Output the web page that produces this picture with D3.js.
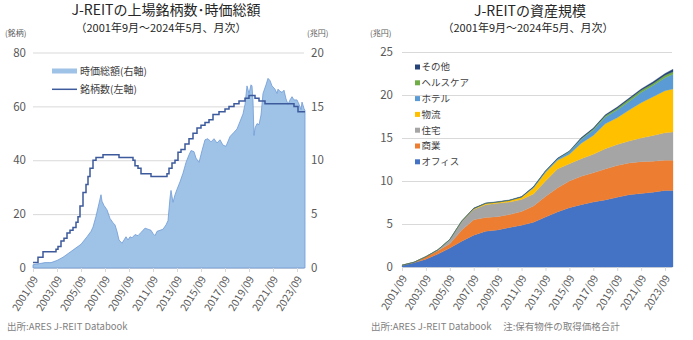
<!DOCTYPE html>
<html><head><meta charset="utf-8">
<script src="https://cdn.jsdelivr.net/npm/d3@7"></script>
<style>
body{margin:0;background:#fff;}
svg{display:block;font-family:"Noto Sans CJK JP","Noto Sans",sans-serif;}
</style></head>
<body><svg id="c" width="693" height="340"></svg>
<script>
// ---------- data: left chart ----------
const xTickLabels = ["2001/09","2003/09","2005/09","2007/09","2009/09","2011/09","2013/09","2015/09","2017/09","2019/09","2021/09","2023/09"];
const leftTicks = [0,20,40,60,80];
const rightTicksL = [0,5,10,15,20];
const countDates = ["2001/09","2002/02","2002/07","2003/08","2003/10","2004/01","2004/04","2004/07","2004/10","2005/01","2005/04","2005/06","2005/08","2005/11","2006/02","2006/04","2006/06","2006/09","2006/12","2007/07","2008/11","2010/01","2010/03","2010/06","2010/09","2011/07","2012/11","2013/01","2013/04","2013/07","2013/10","2014/01","2014/05","2014/09","2015/01","2015/05","2015/09","2016/01","2016/05","2016/09","2017/03","2017/09","2018/01","2018/06","2018/11","2019/05","2019/09","2020/03","2020/07","2021/01","2023/06","2023/10","2024/05"];
const countValues = [2,4,6,7,8,10,11,13,14,15,17,19,23,28,31,34,37,40,41,42,41,40,38,37,35,34,35,37,39,40,43,44,46,48,50,52,53,54,55,57,58,59,60,61,62,63,64,63,62,61,60,58,58];
const capDates = ["2001/09","2002/03","2002/09","2003/03","2003/09","2004/03","2004/09","2005/03","2005/09","2006/03","2006/07","2006/09","2006/12","2007/03","2007/05","2007/06","2007/08","2007/11","2008/02","2008/05","2008/07","2008/09","2008/11","2009/02","2009/04","2009/06","2009/08","2009/10","2009/12","2010/03","2010/06","2010/09","2010/11","2011/01","2011/04","2011/07","2011/09","2011/11","2012/01","2012/04","2012/07","2012/10","2012/12","2013/02","2013/03","2013/05","2013/07","2013/09","2013/12","2014/03","2014/06","2014/09","2014/11","2015/02","2015/04","2015/07","2015/10","2016/01","2016/04","2016/07","2016/10","2017/01","2017/04","2017/07","2017/10","2018/02","2018/06","2018/09","2018/12","2019/03","2019/05","2019/07","2019/09","2019/11","2019/12","2020/01","2020/02","2020/03","2020/05","2020/07","2020/09","2020/11","2021/02","2021/04","2021/06","2021/08","2021/11","2022/01","2022/02","2022/04","2022/06","2022/08","2022/10","2022/12","2023/02","2023/04","2023/06","2023/09","2023/11","2024/01","2024/02","2024/04","2024/05"];
const capValues = [0.3,0.4,0.5,0.5,0.7,1.0,1.4,1.8,2.2,2.9,3.4,3.8,4.8,6.0,6.8,6.2,5.8,5.4,4.6,4.2,4.0,3.4,2.6,2.3,2.6,2.9,2.6,2.9,2.8,3.1,3.0,3.3,3.5,3.7,3.6,3.5,3.2,3.0,3.4,3.5,3.6,4.0,4.4,6.5,7.2,6.1,6.8,7.3,8.0,8.8,9.8,10.5,10.9,10.8,10.2,9.8,10.9,11.9,12.0,11.7,12.0,11.6,11.9,11.4,11.3,12.2,12.6,12.9,13.6,14.3,15.2,16.9,16.2,17.0,16.9,15.5,12.3,13.0,13.4,13.3,14.2,16.2,17.0,17.6,17.4,16.9,16.6,16.2,16.6,16.4,16.3,16.5,15.7,15.2,15.6,15.9,15.6,15.6,15.2,14.7,15.4,14.8,14.6];

// ---------- data: right chart (兆円, each category's own amount) ----------
const assetDates = ["2001/09","2002/09","2003/09","2004/09","2005/09","2006/09","2007/09","2008/09","2009/09","2010/09","2011/09","2012/09","2013/09","2014/09","2015/09","2016/09","2017/09","2018/09","2019/09","2020/09","2021/09","2022/09","2023/09","2024/05"];
const office      = [0.2,0.5,0.9,1.5,2.2,3.0,3.7,4.15,4.3,4.6,4.85,5.2,5.8,6.4,6.9,7.25,7.55,7.8,8.1,8.4,8.55,8.7,8.9,8.9];
const commercial  = [0,0.05,0.3,0.4,0.5,1.3,1.8,1.6,1.55,1.5,1.6,1.9,2.4,2.8,3.1,3.3,3.4,3.6,3.7,3.7,3.7,3.6,3.5,3.5];
const residential = [0,0,0,0.1,0.5,1.0,1.2,1.5,1.55,1.45,1.4,1.4,1.8,2.2,2.0,2.05,2.15,2.35,2.45,2.55,2.75,3.0,3.2,3.3];
const logistics   = [0,0,0,0,0,0.05,0.1,0.15,0.15,0.2,0.25,0.7,1.0,1.0,1.1,1.8,2.2,2.9,3.1,3.6,4.1,4.5,4.9,5.0];
const hotel       = [0,0,0,0,0,0,0,0,0,0,0.05,0.1,0.15,0.2,0.3,0.45,0.6,0.75,0.9,1.0,1.2,1.3,1.5,1.7];
const healthcare  = [0,0,0,0,0,0,0,0,0,0,0,0,0,0,0.05,0.1,0.15,0.2,0.2,0.25,0.25,0.25,0.3,0.3];
const other       = [0,0,0,0,0,0,0.05,0.05,0.05,0.05,0.05,0.05,0.05,0.05,0.05,0.1,0.1,0.1,0.15,0.15,0.15,0.2,0.2,0.3];
const assetTicks = [0,5,10,15,20,25];
const seriesNames = ["オフィス","商業","住宅","物流","ホテル","ヘルスケア","その他"];
const seriesColors = ["#4472c4","#ed7d31","#a5a5a5","#ffc000","#5b9bd5","#70ad47","#264478"];

// ---------- helpers ----------
const mIdx = s => { const [y,m] = s.split("/").map(Number); return (y-2001)*12 + (m-9); };
const tickIdx = xTickLabels.map(mIdx);
const svg = d3.select("#c");
const gridCol = "#d9d9d9", tickTxt = "#595959", titleCol = "#262626";

function styleAxis(g){ g.select(".domain").remove(); g.selectAll("line").attr("stroke",gridCol); g.selectAll("text").attr("fill",tickTxt).attr("font-size","11.5px").attr("font-family",'"Noto Sans CJK JP",sans-serif'); }
function xAxisLabels(g){
  g.select(".domain").remove();
  g.selectAll("line").attr("stroke",gridCol);
  g.selectAll("text").attr("fill",tickTxt).attr("font-size","10.5px").attr("font-family",'"Noto Sans CJK JP",sans-serif')
   .attr("text-anchor","end").attr("x",0).attr("y",0).attr("dy","0.35em")
   .attr("transform","translate(2,9) rotate(-58)");
}

// ================= LEFT CHART =================
const xL = d3.scaleLinear().domain([0,272]).range([33,305]);
const yL = d3.scaleLinear().domain([0,80]).range([268,52.5]);
const yR = d3.scaleLinear().domain([0,20]).range([268,52.5]);

svg.append("g").attr("transform","translate(33,0)")
  .call(d3.axisLeft(yL).tickValues(leftTicks).tickSize(-271).tickPadding(7)).call(styleAxis);
svg.append("g").attr("transform","translate(304,0)")
  .call(d3.axisRight(yR).tickValues(rightTicksL).tickSize(0).tickPadding(7)).call(styleAxis);

const capData = capDates.map((d,i)=>({i:mIdx(d), v:capValues[i]}));
svg.append("path").datum(capData)
  .attr("d", d3.area().x(d=>xL(d.i)).y0(yR(0)).y1(d=>yR(d.v)))
  .attr("fill","#9fc2e7").attr("stroke","#6f9bd6").attr("stroke-width",0.8);

const cntData = countDates.map((d,i)=>({i:mIdx(d), v:countValues[i]}));
svg.append("path").datum(cntData)
  .attr("d", d3.line().curve(d3.curveStepAfter).x(d=>xL(d.i)).y(d=>yL(d.v)))
  .attr("fill","none").attr("stroke","#3d5a9c").attr("stroke-width",1.5);

svg.append("g").attr("transform","translate(0,268)")
  .call(d3.axisBottom(xL).tickValues(tickIdx).tickFormat((d,i)=>xTickLabels[i]).tickSize(4)).call(xAxisLabels);

// legend left
svg.append("rect").attr("x",52).attr("y",68.5).attr("width",25).attr("height",5).attr("fill","#9fc2e7");
svg.append("text").attr("x",80).attr("y",71).attr("dy","0.35em").attr("font-size","10px").attr("fill","#404040").text("時価総額(右軸)");
svg.append("line").attr("x1",52).attr("x2",77).attr("y1",89.3).attr("y2",89.3).attr("stroke","#3d5a9c").attr("stroke-width",1.5);
svg.append("text").attr("x",80).attr("y",89.3).attr("dy","0.35em").attr("font-size","10px").attr("fill","#404040").text("銘柄数(左軸)");

// titles left
svg.append("text").attr("x",166).attr("y",15).attr("text-anchor","middle").attr("font-size","14px").attr("fill",titleCol).text("J-REITの上場銘柄数･時価総額");
svg.append("text").attr("x",161).attr("y",32).attr("text-anchor","middle").attr("font-size","11px").attr("fill",titleCol).text("（2001年9月～2024年5月、月次）");
svg.append("text").attr("x",5).attr("y",36).attr("font-size","8px").attr("fill",tickTxt).text("(銘柄)");
svg.append("text").attr("x",307).attr("y",36).attr("font-size","8px").attr("fill",tickTxt).text("(兆円)");
svg.append("text").attr("x",7).attr("y",330).attr("font-size","9.5px").attr("fill","#7f7f7f").text("出所:ARES J-REIT Databook");

// ================= RIGHT CHART =================
const xR = d3.scaleLinear().domain([0,272]).range([402,673]);
const yS = d3.scaleLinear().domain([0,25]).range([267,52]);

svg.append("g").attr("transform","translate(402,0)")
  .call(d3.axisLeft(yS).tickValues(assetTicks).tickSize(-270).tickPadding(9)).call(styleAxis);

const seriesArrays = [office,commercial,residential,logistics,hotel,healthcare,other];
const table = assetDates.map((d,i)=>{ const o={i:mIdx(d)}; seriesNames.forEach((k,j)=>o[k]=seriesArrays[j][i]); return o; });
const stacked = d3.stack().keys(seriesNames)(table);
svg.append("g").selectAll("path").data(stacked).join("path")
  .attr("d", d3.area().x(d=>xR(d.data.i)).y0(d=>yS(d[0])).y1(d=>yS(d[1])))
  .attr("fill",(d,i)=>seriesColors[i]).attr("stroke",(d,i)=>seriesColors[i]).attr("stroke-width",0.3);

svg.append("g").attr("transform","translate(0,267)")
  .call(d3.axisBottom(xR).tickValues(tickIdx).tickFormat((d,i)=>xTickLabels[i]).tickSize(4)).call(xAxisLabels);

// legend right (top to bottom: その他 ... オフィス)
const legOrder = d3.range(seriesNames.length).reverse();
const lg = svg.append("g").selectAll("g").data(legOrder).join("g")
  .attr("transform",(d,k)=>`translate(415,${67 + k*15.8})`);
lg.append("rect").attr("x",0).attr("y",-2.5).attr("width",5).attr("height",5).attr("fill",d=>seriesColors[d]);
lg.append("text").attr("x",6.5).attr("y",0).attr("dy","0.35em").attr("font-size","9.5px").attr("fill","#404040").text(d=>seriesNames[d]);

svg.append("text").attr("x",530).attr("y",16).attr("text-anchor","middle").attr("font-size","14px").attr("fill",titleCol).text("J-REITの資産規模");
svg.append("text").attr("x",528).attr("y",31.5).attr("text-anchor","middle").attr("font-size","11px").attr("fill",titleCol).text("（2001年9月～2024年5月、月次）");
svg.append("text").attr("x",370).attr("y",36).attr("font-size","8px").attr("fill",tickTxt).text("(兆円)");
svg.append("text").attr("x",371).attr("y",330).attr("font-size","9.5px").attr("fill","#7f7f7f").text("出所:ARES J-REIT Databook　 注:保有物件の取得価格合計");
</script></body></html>
